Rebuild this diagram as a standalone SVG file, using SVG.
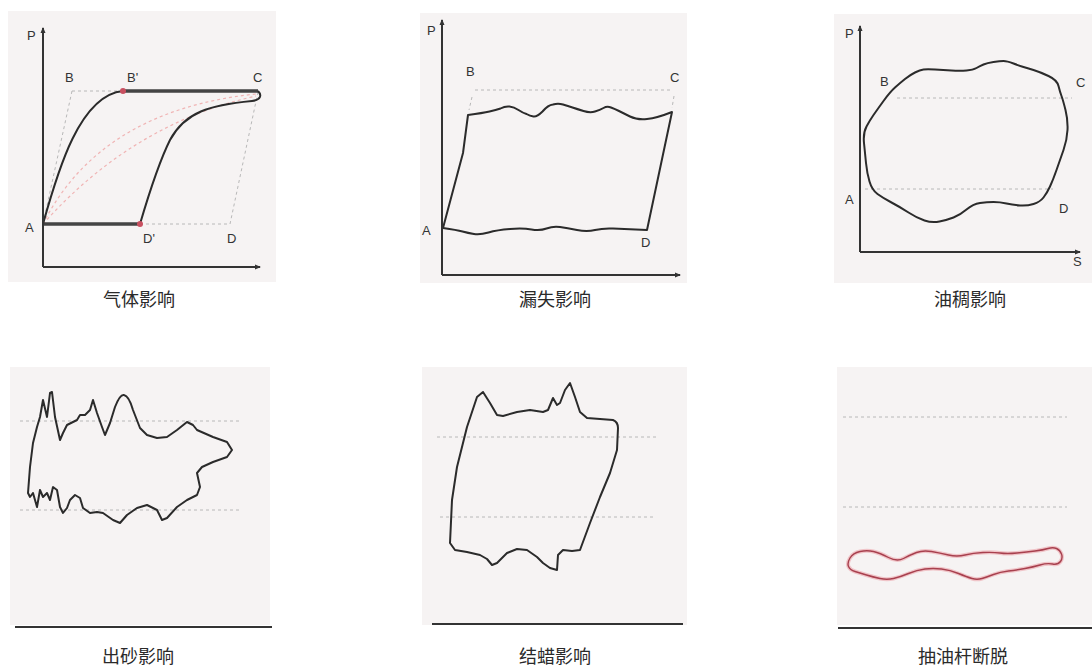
<svg xmlns="http://www.w3.org/2000/svg" width="1092" height="670" viewBox="0 0 1092 670">
<defs>
<marker id="arr" markerWidth="6" markerHeight="6" refX="5" refY="3" orient="auto" markerUnits="userSpaceOnUse">
<path d="M0,0.5 L6,3 L0,5.5 z" fill="#333"/>
</marker>
</defs>
<style>
.bg{fill:#f6f3f3;stroke:none}
.axis{stroke:#333;stroke-width:2;fill:none}
.base{stroke:#333;stroke-width:2;fill:none}
.dash{stroke:#b8b8b8;stroke-width:1;stroke-dasharray:3 3;fill:none}
.rdash{stroke:#f0b4b4;stroke-width:1.2;stroke-dasharray:3 3;fill:none}
.curve{stroke:#2b2b2b;stroke-width:2;fill:none;stroke-linejoin:round}
.thick{stroke:#444;stroke-width:3.5;fill:none}
.redhalo{stroke:#f0c4c8;stroke-width:4;fill:none;stroke-linejoin:round}
.red{stroke:#a8404e;stroke-width:1.4;fill:none;stroke-linejoin:round}
.lbl{font-family:"Liberation Sans",Arial,sans-serif;font-size:13px;fill:#333}
.cap{font-family:"Noto Sans CJK SC","Noto Sans",sans-serif;font-size:18px;fill:#2a2a2a;text-anchor:middle}
.dot{fill:#c85060}
</style>

<g id="panel-gas">
<rect class="bg" x="8" y="11" width="268" height="271"/>
<path class="dash" d="M72,91 L123,91 M72,91 L43,224 M140,224 L230,224 M258,92 L230,224"/>
<path class="rdash" d="M43,224 C80,150 150,105 256,94"/>
<path class="rdash" d="M43,224 C100,160 170,115 256,96"/>
<path class="thick" d="M123,91 L258,91 M43,224 L140,224"/>
<path class="curve" d="M43,224 C58,170 80,95 123,91"/>
<path class="curve" d="M258,91 C262,95 261,100 252,101 C210,105 185,112 170,140 C160,160 150,190 140,224"/>
<circle class="dot" cx="123" cy="91" r="3"/>
<circle class="dot" cx="140" cy="224" r="3"/>
<line class="axis" x1="43" y1="267" x2="43" y2="28" marker-end="url(#arr)"/>
<line class="axis" x1="43" y1="267" x2="260" y2="267" marker-end="url(#arr)"/>
<text class="lbl" x="27" y="40">P</text>
<text class="lbl" x="65" y="82">B</text>
<text class="lbl" x="127" y="82">B'</text>
<text class="lbl" x="253" y="82">C</text>
<text class="lbl" x="25" y="232">A</text>
<text class="lbl" x="143" y="243">D'</text>
<text class="lbl" x="227" y="243">D</text>
<text class="cap" x="139" y="306">气体影响</text>
</g>

<g id="panel-leak">
<rect class="bg" x="420" y="13" width="267" height="270"/>
<path class="dash" d="M475,90 L673,90 M472,97 L469,110 M674,96 L672,108"/>
<path class="curve" d="M443,228 L463,153 L468,115 Q483,113 489.5,111.5 Q496,110 500.5,108.5 Q505,106 509.5,106.5 Q514,107 518.5,110 Q523,113 526.5,114 Q530,116 533.5,116.5 Q537,117 542.5,111.5 Q548,105 553,104.5 Q558,103 563,104.5 Q568,106 572.5,107.5 Q577,109 583.5,111 Q590,113 595,111.5 Q600,110 603.5,108 Q607,106 611,107.5 Q615,109 619,111 Q623,113 630,116.5 Q637,120 647,119 Q657,118 672,112 L647,230 Q623,229 613,228.5 Q603,228 595,230 Q587,232 577,230 Q567,228 560,227 Q553,226 546.5,228.5 Q540,231 531.5,229.5 Q523,228 510,229 Q497,230 488.5,232.5 Q480,235 474,234 Q468,233 462.5,231.5 Q457,230 443,228 Z"/>
<line class="axis" x1="442" y1="275" x2="442" y2="20" marker-end="url(#arr)"/>
<line class="axis" x1="442" y1="275" x2="680" y2="275" marker-end="url(#arr)"/>
<text class="lbl" x="427" y="35">P</text>
<text class="lbl" x="466" y="76">B</text>
<text class="lbl" x="670" y="82">C</text>
<text class="lbl" x="422" y="235">A</text>
<text class="lbl" x="641" y="247">D</text>
<text class="cap" x="555" y="306">漏失影响</text>
</g>

<g id="panel-oil">
<rect class="bg" x="834" y="14" width="258" height="269"/>
<path class="dash" d="M897,98 L1072,98 M865,189 L1053,189"/>
<path class="curve" d="M864,143 Q863,133 866.5,126.5 Q870,120 873.5,115 Q877,110 883.5,101 Q890,92 895,87.5 Q900,83 905,79 Q910,75 915,72.5 Q920,70 923.5,69.5 Q927,69 935,69.5 Q943,70 951.5,70.5 Q960,71 966.5,70.5 Q973,70 976.5,68 Q980,66 983.5,64.5 Q987,63 993.5,62 Q1000,61 1003.5,61 Q1007,61 1013.5,63.5 Q1020,66 1023.5,67 Q1027,68 1033.5,70 Q1040,72 1048.5,76 Q1057,80 1058.5,86 Q1060,92 1061.5,96 Q1063,100 1065.5,110 Q1068,120 1067.5,130 Q1067,140 1063.5,150 Q1060,160 1056.5,170 Q1053,180 1050,186.5 Q1047,193 1043.5,197.5 Q1040,202 1033.5,204 Q1027,206 1020,205.5 Q1013,205 1006.5,203.5 Q1000,202 993.5,202 Q987,202 980,203 Q973,204 966.5,209.5 Q960,215 953.5,217.5 Q947,220 939.5,221.5 Q932,223 924.5,220.5 Q917,218 908.5,212.5 Q900,207 891.5,202.5 Q883,198 877.5,194 Q872,190 869.5,181.5 Q867,173 866,163 Q865,153 864,143 Z"/>
<line class="axis" x1="860" y1="252" x2="860" y2="26" marker-end="url(#arr)"/>
<line class="axis" x1="860" y1="252" x2="1080" y2="252" marker-end="url(#arr)"/>
<text class="lbl" x="845" y="38">P</text>
<text class="lbl" x="880" y="86">B</text>
<text class="lbl" x="1076" y="87">C</text>
<text class="lbl" x="845" y="204">A</text>
<text class="lbl" x="1059" y="213">D</text>
<text class="lbl" x="1073" y="266">S</text>
<text class="cap" x="970" y="306">油稠影响</text>
</g>

<g id="panel-sand">
<rect class="bg" x="10" y="367" width="260" height="258"/>
<path class="dash" d="M20,421 L240,421 M20,510 L240,510"/>
<path class="curve" d="M28,493 L30,467 L33,443 L37,427 L40,417 L43,400 L47,417 L50,393 L52,392 L55,417 L60,440 L63,433 L67,425 L77,420 L80,415 L85,415 L90,410 L93,400 L97,413 L102,427 L105,435 L110,423 L115,407 Q120,394 124,395 Q129,396 133,410 L140,428 L147,435 L157,438 L167,437 L177,430 L187,422 L193,425 L197,430 L213,437 L227,442 L232,450 L227,457 L213,462 L202,467 L197,473 L200,487 L197,495 L187,500 L177,507 L167,518 L162,520 L157,510 L147,505 L137,508 L127,515 L120,523 L113,520 L103,513 L97,512 L90,513 L83,508 L80,498 L75,495 L70,500 L67,508 L63,513 L60,507 L57,490 L53,487 L50,500 L47,493 L43,497 L40,490 L37,507 L33,493 L30,497 Z"/>
<line class="base" x1="15" y1="627" x2="272" y2="627"/>
<text class="cap" x="138" y="663">出砂影响</text>
</g>

<g id="panel-wax">
<rect class="bg" x="422" y="367" width="265" height="258"/>
<path class="dash" d="M437,437 L657,437 M440,517 L653,517"/>
<path class="curve" d="M450,543 L452,500 L457,467 L467,427 L477,397 L483,392 L490,403 L497,415 L503,416 L517,412 L530,410 L543,412 L548,410 L553,398 L557,405 L560,403 L565,390 L570,383 L575,397 L580,412 L587,418 L600,419 L613,420 Q618,422 618,428 L617,450 L610,473 L600,497 L590,523 L580,550 L572,551 L563,550 L558,555 L557,570 L550,568 L543,563 L537,557 L527,550 L517,549 L507,553 L497,563 L492,565 L487,559 L480,555 L467,552 L455,550 Z"/>
<line class="base" x1="432" y1="624" x2="683" y2="624"/>
<text class="cap" x="555" y="663">结蜡影响</text>
</g>

<g id="panel-rod">
<rect class="bg" x="837" y="367" width="255" height="258"/>
<path class="dash" d="M843,417 L1067,417 M843,507 L1067,507"/>
<path class="redhalo" d="M848.5,566.5 Q847,563 850,558 Q853,553 860,551.5 Q867,550 873.5,551.5 Q880,553 888.5,557.5 Q897,562 903.5,558.5 Q910,555 916.5,552.5 Q923,550 931.5,551.5 Q940,553 948.5,555 Q957,557 965,555 Q973,553 983,552.5 Q993,552 1000,553 Q1007,554 1017,553 Q1027,552 1035,551 Q1043,550 1048,548.5 Q1053,547 1056.5,548.5 Q1060,550 1061.5,554 Q1063,558 1060.5,561.5 Q1058,565 1052.5,564 Q1047,563 1040,565 Q1033,567 1025,568.5 Q1017,570 1008.5,571 Q1000,572 993.5,574.5 Q987,577 982,578.5 Q977,580 972,578.5 Q967,577 958.5,573.5 Q950,570 941.5,569 Q933,568 925,569 Q917,570 908.5,573.5 Q900,577 893.5,578.5 Q887,580 880,578.5 Q873,577 866.5,575 Q860,573 855,571.5 Q850,570 848.5,566.5 Z"/>
<path class="red" d="M848.5,566.5 Q847,563 850,558 Q853,553 860,551.5 Q867,550 873.5,551.5 Q880,553 888.5,557.5 Q897,562 903.5,558.5 Q910,555 916.5,552.5 Q923,550 931.5,551.5 Q940,553 948.5,555 Q957,557 965,555 Q973,553 983,552.5 Q993,552 1000,553 Q1007,554 1017,553 Q1027,552 1035,551 Q1043,550 1048,548.5 Q1053,547 1056.5,548.5 Q1060,550 1061.5,554 Q1063,558 1060.5,561.5 Q1058,565 1052.5,564 Q1047,563 1040,565 Q1033,567 1025,568.5 Q1017,570 1008.5,571 Q1000,572 993.5,574.5 Q987,577 982,578.5 Q977,580 972,578.5 Q967,577 958.5,573.5 Q950,570 941.5,569 Q933,568 925,569 Q917,570 908.5,573.5 Q900,577 893.5,578.5 Q887,580 880,578.5 Q873,577 866.5,575 Q860,573 855,571.5 Q850,570 848.5,566.5 Z"/>
<line class="base" x1="838" y1="628" x2="1092" y2="628"/>
<text class="cap" x="963" y="663">抽油杆断脱</text>
</g>

<g id="connectors"></g>
</svg>
